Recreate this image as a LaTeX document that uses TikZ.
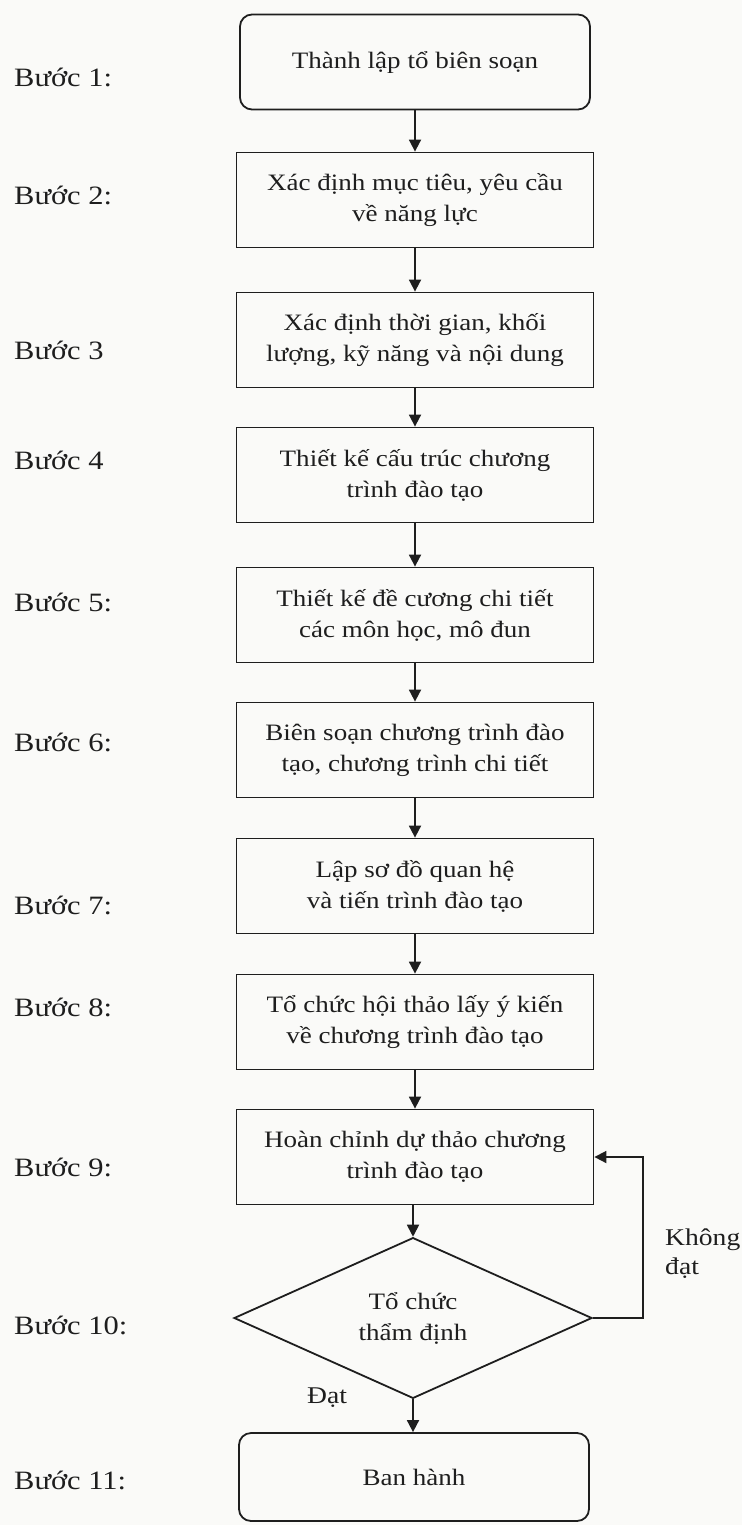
\documentclass[tikz,border=0pt]{standalone}
\usepackage{fontspec}
\setmainfont{Liberation Serif}[FakeStretch=1.15]
\usetikzlibrary{arrows.meta,shapes.geometric}
\definecolor{ink}{RGB}{30,30,30}
\definecolor{paper}{RGB}{250,250,248}
\tikzset{
  stepbox/.style={draw=ink, line width=1.8pt, rectangle, minimum width=357pt, minimum height=95pt,
    inner sep=0pt, align=center, text=ink, font=\fontsize{23.5}{31}\selectfont},
  endbox/.style={stepbox, rounded corners=12pt, minimum width=350pt},
  decide/.style={draw=ink, line width=1.8pt, diamond, minimum width=358pt, minimum height=146pt,
    inner sep=0pt, align=center, text=ink, font=\fontsize{23.5}{31}\selectfont},
  steplabel/.style={anchor=west, inner sep=0pt, text=ink, font=\fontsize{26.5}{30}\selectfont},
  sidelabel/.style={inner sep=0pt, text=ink, align=left, font=\fontsize{24}{29}\selectfont},
  flow/.style={draw=ink, line width=1.8pt, -{Triangle[length=12pt,width=12pt]}}
}
\begin{document}
\begin{tikzpicture}[x=1pt,y=-1pt]
\useasboundingbox (0,0) rectangle (742,1525);
\fill[paper] (0,0) rectangle (742,1525);

\node[endbox]  (b1) at (415,62)   {Thành lập tổ biên soạn};
\node[stepbox] (b2) at (415,200)  {Xác định mục tiêu, yêu cầu\\về năng lực};
\node[stepbox] (b3) at (415,340)  {Xác định thời gian, khối\\lượng, kỹ năng và nội dung};
\node[stepbox] (b4) at (415,475)  {Thiết kế cấu trúc chương\\trình đào tạo};
\node[stepbox] (b5) at (415,615)  {Thiết kế đề cương chi tiết\\các môn học, mô đun};
\node[stepbox] (b6) at (415,750)  {Biên soạn chương trình đào\\tạo, chương trình chi tiết};
\node[stepbox] (b7) at (415,886)  {Lập sơ đồ quan hệ\\và tiến trình đào tạo};
\node[stepbox] (b8) at (415,1022) {Tổ chức hội thảo lấy ý kiến\\về chương trình đào tạo};
\node[stepbox] (b9) at (415,1157) {Hoàn chỉnh dự thảo chương\\trình đào tạo};
\node[decide]  (d10) at (413,1318) {Tổ chức\\thẩm định};
\node[endbox, minimum height=88pt] (b11) at (414,1477) {Ban hành};

\node[steplabel] (l1)  at (14,77)   {Bước 1:};
\node[steplabel] (l2)  at (14,195)  {Bước 2:};
\node[steplabel] (l3)  at (14,350)  {Bước 3};
\node[steplabel] (l4)  at (14,460)  {Bước 4};
\node[steplabel] (l5)  at (14,602)  {Bước 5:};
\node[steplabel] (l6)  at (14,742)  {Bước 6:};
\node[steplabel] (l7)  at (14,905)  {Bước 7:};
\node[steplabel] (l8)  at (14,1007) {Bước 8:};
\node[steplabel] (l9)  at (14,1167) {Bước 9:};
\node[steplabel] (l10) at (14,1325) {Bước 10:};
\node[steplabel] (l11) at (14,1480) {Bước 11:};

\draw[flow] (b1) -- (b2);
\draw[flow] (b2) -- (b3);
\draw[flow] (b3) -- (b4);
\draw[flow] (b4) -- (b5);
\draw[flow] (b5) -- (b6);
\draw[flow] (b6) -- (b7);
\draw[flow] (b7) -- (b8);
\draw[flow] (b8) -- (b9);
\draw[flow] (b9.south -| d10.north) -- (d10.north);
\draw[flow] (d10.south) -- (d10.south |- b11.north);
\coordinate (fb) at (643,1318);
\draw[flow] (d10.east) -- (fb) |- (b9.east);

\node[sidelabel, anchor=center] (dat) at (327,1398) {Đạt};
\node[sidelabel, anchor=west] (khongdat) at (665,1254) {Không\\đạt};
\end{tikzpicture}
\end{document}
